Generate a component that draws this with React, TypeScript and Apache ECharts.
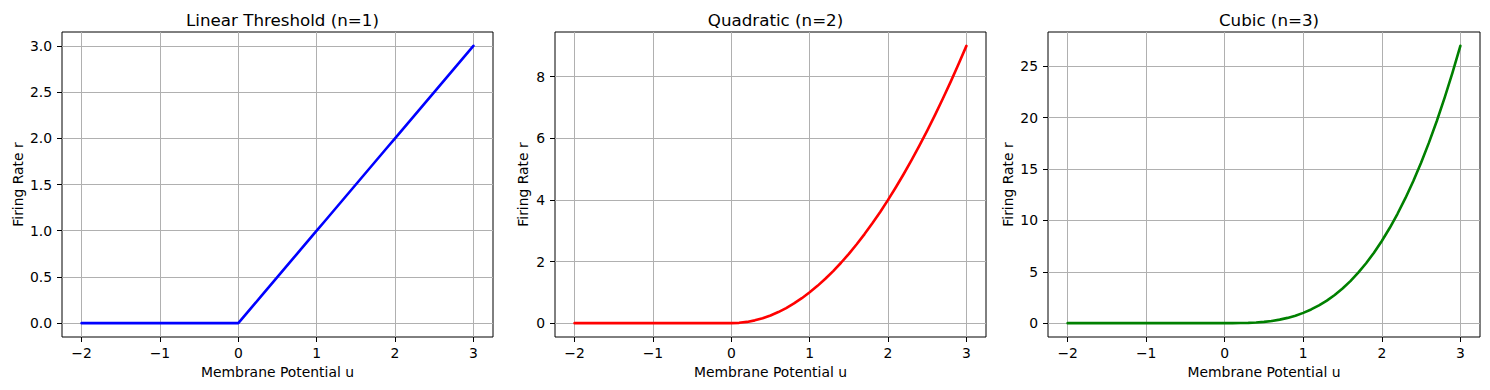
import React, { useEffect, useRef } from "react";
import * as echarts from "echarts";

const U = [-2, -1.5, -1, -0.5, 0, 0.1, 0.2, 0.3, 0.4, 0.5, 0.6, 0.7, 0.8, 0.9, 1, 1.1, 1.2, 1.3, 1.4, 1.5, 1.6, 1.7, 1.8, 1.9, 2, 2.1, 2.2, 2.3, 2.4, 2.5, 2.6, 2.7, 2.8, 2.9, 3];
const LINEAR = [0, 0, 0, 0, 0, 0.1, 0.2, 0.3, 0.4, 0.5, 0.6, 0.7, 0.8, 0.9, 1, 1.1, 1.2, 1.3, 1.4, 1.5, 1.6, 1.7, 1.8, 1.9, 2, 2.1, 2.2, 2.3, 2.4, 2.5, 2.6, 2.7, 2.8, 2.9, 3];
const QUADRATIC = [0, 0, 0, 0, 0, 0.01, 0.04, 0.09, 0.16, 0.25, 0.36, 0.49, 0.64, 0.81, 1, 1.21, 1.44, 1.69, 1.96, 2.25, 2.56, 2.89, 3.24, 3.61, 4, 4.41, 4.84, 5.29, 5.76, 6.25, 6.76, 7.29, 7.84, 8.41, 9];
const CUBIC = [0, 0, 0, 0, 0, 0.001, 0.008, 0.027, 0.064, 0.125, 0.216, 0.343, 0.512, 0.729, 1, 1.331, 1.728, 2.197, 2.744, 3.375, 4.096, 4.913, 5.832, 6.859, 8, 9.261, 10.648, 12.167, 13.824, 15.625, 17.576, 19.683, 21.952, 24.389, 27];

const TITLES = ["Linear Threshold (n=1)", "Quadratic (n=2)", "Cubic (n=3)"];
const X_TICKS = [-2, -1, 0, 1, 2, 3];
const Y_TICKS_1 = [0, 0.5, 1, 1.5, 2, 2.5, 3];
const Y_TICKS_2 = [0, 2, 4, 6, 8];
const Y_TICKS_3 = [0, 5, 10, 15, 20, 25];
const X_LABEL = "Membrane Potential u";
const Y_LABEL = "Firing Rate r";

const FONT = "DejaVu Sans";

export default function App() {
  const ref = useRef<HTMLDivElement>(null);
  useEffect(() => {
    if (!ref.current) return;
    const chart = echarts.init(ref.current, undefined, { renderer: "svg" });
    const series = [LINEAR, QUADRATIC, CUBIC];
    const colors = ["#0000ff", "#ff0000", "#008000"];
    const yTicks = [Y_TICKS_1, Y_TICKS_2, Y_TICKS_3];
    const yFmt = [(v: number) => v.toFixed(1), (v: number) => String(v), (v: number) => String(v)];
    const grids = [
      { left: 62, top: 32, width: 431, height: 305 },
      { left: 555, top: 32, width: 431, height: 305 },
      { left: 1048, top: 32, width: 432, height: 305 },
    ];
    const yNameGaps = [37, 25, 33];
    const xMinD = Math.min(...U), xMaxD = Math.max(...U);
    const xr = xMaxD - xMinD;

    const option: any = {
      animation: false,
      backgroundColor: "#ffffff",
      title: grids.map((g, i) => ({
        text: TITLES[i],
        left: g.left + g.width / 2,
        top: 6,
        textAlign: "center",
        textStyle: { fontFamily: FONT, fontSize: 16.7, fontWeight: "normal", color: "#000" },
      })),
      grid: grids.map((g) => ({
        ...g,
        show: true,
        borderColor: "#000",
        borderWidth: 1,
        backgroundColor: "transparent",
        containLabel: false,
      })),
      xAxis: grids.map((_, i) => ({
        type: "value",
        gridIndex: i,
        min: xMinD - 0.05 * xr,
        max: xMaxD + 0.05 * xr,
        name: X_LABEL,
        nameLocation: "middle",
        nameGap: 28,
        nameTextStyle: { fontFamily: FONT, fontSize: 13.9, color: "#000" },
        axisLine: { show: false, onZero: false },
        axisTick: { show: true, inside: false, length: 5, customValues: X_TICKS, lineStyle: { color: "#000", width: 1 } },
        axisLabel: {
          customValues: X_TICKS,
          margin: 9,
          fontFamily: FONT,
          fontSize: 13.9,
          color: "#000",
          formatter: (v: number) => String(v).replace("-", "\u2212"),
        },
        splitLine: { show: true, lineStyle: { color: "#b0b0b0", width: 1 } },
      })),
      yAxis: grids.map((_, i) => {
        const d = series[i];
        const mn = Math.min(...d), mx = Math.max(...d);
        const r = mx - mn;
        return {
          type: "value",
          gridIndex: i,
          min: mn - 0.05 * r,
          max: mx + 0.05 * r,
          name: Y_LABEL,
          nameLocation: "middle",
          nameGap: yNameGaps[i],
          nameRotate: 90,
          nameTextStyle: { fontFamily: FONT, fontSize: 13.9, color: "#000" },
          axisLine: { show: false, onZero: false },
          axisTick: { show: true, inside: false, length: 5, customValues: yTicks[i], lineStyle: { color: "#000", width: 1 } },
          axisLabel: {
            customValues: yTicks[i],
            margin: 10,
            fontFamily: FONT,
            fontSize: 13.9,
            color: "#000",
            formatter: yFmt[i],
          },
          splitLine: { show: true, lineStyle: { color: "#b0b0b0", width: 1 } },
        };
      }),
      series: series.map((d, i) => ({
        type: "line",
        xAxisIndex: i,
        yAxisIndex: i,
        data: U.map((u, k) => [u, d[k]]),
        showSymbol: false,
        symbol: "none",
        smooth: false,
        lineStyle: { color: colors[i], width: 2.6, join: "round", cap: "round" },
        itemStyle: { color: colors[i] },
      })),
    };
    chart.setOption(option);
    return () => chart.dispose();
  }, []);
  return (
    <div
      ref={ref}
      style={{ position: "fixed", left: 0, top: 0, width: 1490, height: 390, background: "#fff" }}
    />
  );
}
